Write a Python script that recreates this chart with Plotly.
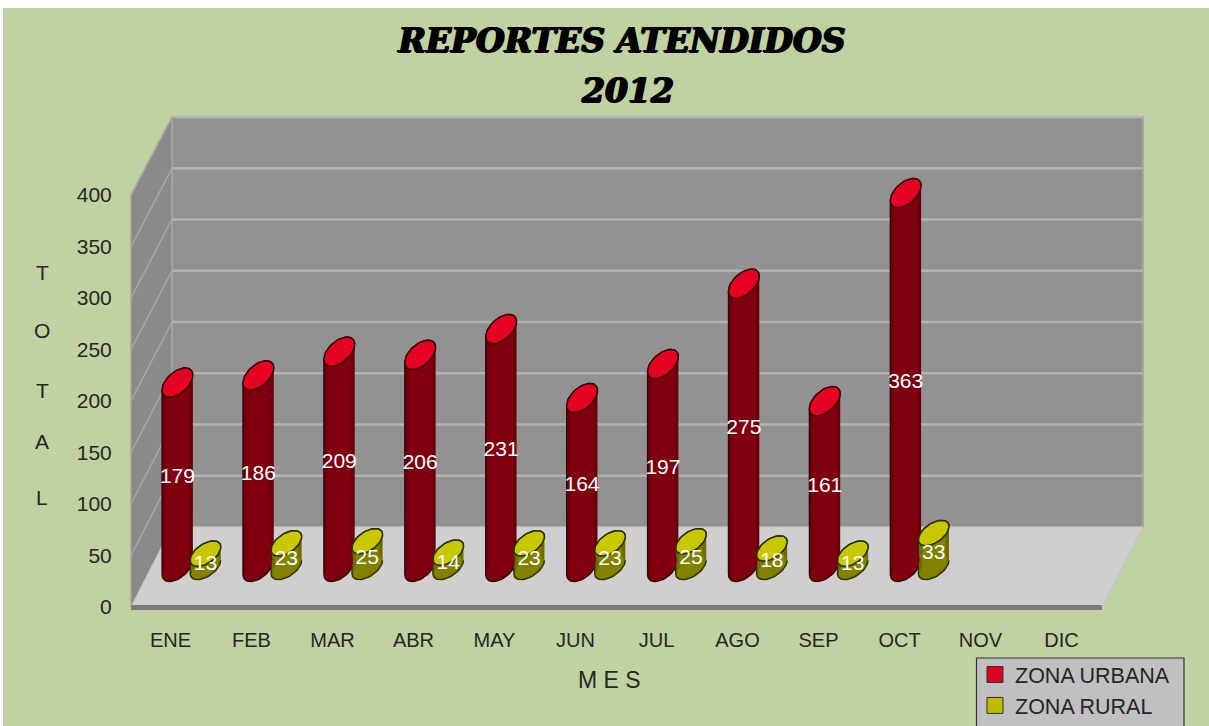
import math
import plotly.graph_objects as go

# ---- data ----
MESES = ["ENE", "FEB", "MAR", "ABR", "MAY", "JUN", "JUL", "AGO", "SEP", "OCT", "NOV", "DIC"]
ZONA_URBANA = [179, 186, 209, 206, 231, 164, 197, 275, 161, 363]
ZONA_RURAL = [13, 23, 25, 14, 23, 23, 25, 18, 13, 33]
Y_TICKS = [0, 50, 100, 150, 200, 250, 300, 350, 400]

W, H = 1209, 726
PX_X = 81.0      # pixels per category
PX_Y = 1.03      # pixels per unit
GREEN = "#c0d2a2"
FONT = "Liberation Sans"
TXT = "#262626"
HEAVY = "1px 0px 0px black, -1px 0px 0px black, 0px 1px 0px black"


def fx(p):
    return p / W


def fy(p):
    return 1 - p / H


def poly(pts, color, line=None, width=0, layer="below"):
    path = "M" + "L".join(f"{fx(a):.5f},{fy(b):.5f}" for a, b in pts) + "Z"
    return dict(type="path", xref="paper", yref="paper", path=path, fillcolor=color,
                line=dict(color=line or color, width=width), layer=layer)


shapes = [
    dict(type="rect", xref="paper", yref="paper", x0=fx(3), x1=1, y0=0, y1=fy(8),
         fillcolor=GREEN, line=dict(width=0), layer="below"),
    poly([(172, 117), (1143, 117), (1143, 527), (172, 527)], "#929292", "#a6a6a6", 2),
    poly([(131, 195), (172, 117), (172, 527), (131, 607)], "#8a8a8a", "#a6a6a6", 1.5),
    poly([(131, 607), (172, 527), (1143, 527), (1102, 607)], "#cfcfcf", "#c4c4c4", 1),
    poly([(131, 605), (1102, 605), (1102, 610), (131, 610)], "#7d7d7d"),
]
for v in Y_TICKS[1:-1] + [400]:
    yb = 527 - v * 1.025
    yf = 607 - v * PX_Y
    shapes.append(dict(type="line", xref="paper", yref="paper", x0=fx(172), x1=fx(1143),
                       y0=fy(yb), y1=fy(yb), line=dict(color="#b2b2b2", width=2.5), layer="below"))
    shapes.append(dict(type="line", xref="paper", yref="paper", x0=fx(131), x1=fx(172),
                       y0=fy(yf), y1=fy(yb), line=dict(color="#a8a8a8", width=1.5), layer="below"))
shapes.append(dict(type="rect", xref="paper", yref="paper", x0=fx(976.5), x1=fx(1184), y0=-0.02, y1=fy(658),
                   fillcolor="#c0c0c0", line=dict(color="#333333", width=1.2), layer="below"))


def arc(a, b, th, t0, t1, n=24):
    out = []
    for i in range(n + 1):
        t = t0 + (t1 - t0) * i / n
        out.append((a * math.cos(t) * math.cos(th) - b * math.sin(t) * math.sin(th),
                    a * math.cos(t) * math.sin(th) + b * math.sin(t) * math.cos(th)))
    return out


def cylinders(values, off, a, b, th):
    t0 = math.atan2(-b * math.sin(th), a * math.cos(th))
    up = arc(a, b, th, t0, t0 + math.pi)
    low = arc(a, b, th, t0 + math.pi, t0 + 2 * math.pi)
    inner = arc(a - 1.5, b - 1.5, th, 0, 2 * math.pi, 48)
    body_x, body_y, top_x, top_y, bot_x, bot_y = [], [], [], [], [], []
    for i, v in enumerate(values):
        c = i + off
        for dx, dy in up:
            body_x.append(c + dx / PX_X)
            body_y.append(v + dy / PX_Y)
        for dx, dy in low:
            body_x.append(c + dx / PX_X)
            body_y.append(dy / PX_Y)
        body_x.append(None)
        body_y.append(None)
        for dx, dy in up + low:
            top_x.append(c + dx / PX_X)
            top_y.append(v + dy / PX_Y)
        top_x.append(None)
        top_y.append(None)
        for dx, dy in inner:
            bot_x.append(c + dx / PX_X)
            bot_y.append(dy / PX_Y)
        bot_x.append(None)
        bot_y.append(None)
    return body_x, body_y, top_x, top_y, bot_x, bot_y


OFF_U, OFF_R = -0.173, 0.173
ub_x, ub_y, ut_x, ut_y, ul_x, ul_y = cylinders(ZONA_URBANA, OFF_U, 18.5, 10.5, math.radians(42))
rb_x, rb_y, rt_x, rt_y, rl_x, rl_y = cylinders(ZONA_RURAL, OFF_R, 17.5, 9.5, math.radians(35))
xu = [i + OFF_U for i in range(len(ZONA_URBANA))]
xr = [i + OFF_R for i in range(len(ZONA_RURAL))]
BODY_U, BODY_R = "#80000f", "#828200"

fig = go.Figure()
# main axes carry the ticks
fig.add_trace(go.Scatter(x=list(range(len(MESES))), y=[None] * len(MESES), mode="markers",
                         xaxis="x", yaxis="y", showlegend=False, hoverinfo="skip"))
# cylinder silhouettes
fig.add_trace(go.Scatter(x=ub_x, y=ub_y, mode="lines", fill="toself", fillcolor="#6a000d",
                         line=dict(color="#3a0008", width=1.3), xaxis="x2", yaxis="y2",
                         showlegend=False, hoverinfo="skip"))
fig.add_trace(go.Scatter(x=rb_x, y=rb_y, mode="lines", fill="toself", fillcolor="#6e6e00",
                         line=dict(color="#2e2e00", width=1.3), xaxis="x2", yaxis="y2",
                         showlegend=False, hoverinfo="skip"))
# bars
fig.add_trace(go.Bar(x=xu, y=ZONA_URBANA, width=24 / PX_X, marker=dict(color=BODY_U, line=dict(width=0)),
                     xaxis="x3", yaxis="y3", showlegend=False))
fig.add_trace(go.Bar(x=xr, y=ZONA_RURAL, width=23 / PX_X, marker=dict(color=BODY_R, line=dict(width=0)),
                     xaxis="x3", yaxis="y3", showlegend=False))
# bottom curves
fig.add_trace(go.Scatter(x=ul_x, y=ul_y, mode="lines", fill="toself", fillcolor=BODY_U,
                         line=dict(width=0), xaxis="x3", yaxis="y3", showlegend=False, hoverinfo="skip"))
fig.add_trace(go.Scatter(x=rl_x, y=rl_y, mode="lines", fill="toself", fillcolor=BODY_R,
                         line=dict(width=0), xaxis="x3", yaxis="y3", showlegend=False, hoverinfo="skip"))
# top caps
fig.add_trace(go.Scatter(x=ut_x, y=ut_y, mode="lines", fill="toself", fillcolor="#e60022",
                         line=dict(color="#3a0008", width=1.6), xaxis="x3", yaxis="y3",
                         showlegend=False, hoverinfo="skip"))
fig.add_trace(go.Scatter(x=rt_x, y=rt_y, mode="lines", fill="toself", fillcolor="#c8c800",
                         line=dict(color="#2e2e00", width=1.6), xaxis="x3", yaxis="y3",
                         showlegend=False, hoverinfo="skip"))
# value labels
fig.add_trace(go.Scatter(x=xu, y=[v / 2 - 3 for v in ZONA_URBANA], mode="text", text=[str(v) for v in ZONA_URBANA],
                         textfont=dict(family=FONT, size=21, color="white"), xaxis="x3", yaxis="y3",
                         showlegend=False, hoverinfo="skip"))
fig.add_trace(go.Scatter(x=xr, y=[v / 2 - 4 for v in ZONA_RURAL], mode="text", text=[str(v) for v in ZONA_RURAL],
                         textfont=dict(family=FONT, size=21, color="white"), xaxis="x3", yaxis="y3",
                         showlegend=False, hoverinfo="skip"))
# legend entries
fig.add_trace(go.Scatter(x=[None], y=[None], mode="markers", name="ZONA URBANA", xaxis="x3", yaxis="y3",
                         marker=dict(symbol="square", size=16, color="#dc0020", line=dict(color="#333333", width=1))))
fig.add_trace(go.Scatter(x=[None], y=[None], mode="markers", name="ZONA RURAL", xaxis="x3", yaxis="y3",
                         marker=dict(symbol="square", size=16, color="#bdbd00", line=dict(color="#333333", width=1))))

# overlay axes: front plane shifted into the floor, range extended below 0 so caps are not clipped
X_SHIFT, BASE_PX, Y_LOW = 20, 567, -50
over_dom_x = [fx(131 + X_SHIFT), fx(1102 + X_SHIFT)]
over_dom_y = [fy(BASE_PX - Y_LOW * PX_Y), fy(BASE_PX - 400 * PX_Y)]
hidden = dict(visible=False, showgrid=False, zeroline=False, fixedrange=True)

annotations = [
    dict(text="<b><i>2012</i></b>", xref="paper", yref="paper", x=fx(627), y=fy(90), showarrow=False,
         xanchor="center", yanchor="middle",
         font=dict(family="DejaVu Serif", size=33, color="black", shadow=HEAVY)),
    dict(text="M E S", xref="paper", yref="paper", x=fx(609), y=fy(680), showarrow=False,
         xanchor="center", yanchor="middle", font=dict(family=FONT, size=23, color=TXT)),
]
for letter, py in zip("TOTAL", [272, 330, 390, 441, 497]):
    annotations.append(dict(text=letter, xref="paper", yref="paper", x=fx(42), y=fy(py), showarrow=False,
                            xanchor="center", yanchor="middle", font=dict(family=FONT, size=21, color=TXT)))

fig.update_layout(
    width=W, height=H, autosize=False,
    margin=dict(l=0, r=0, t=0, b=0, autoexpand=False),
    paper_bgcolor="white", plot_bgcolor="rgba(0,0,0,0)",
    barmode="overlay",
    title=dict(text="<b><i>REPORTES ATENDIDOS</i></b>", x=fx(622), xanchor="center", xref="paper",
               y=fy(40), yanchor="middle", yref="paper",
               font=dict(family="DejaVu Serif", size=33, color="black", shadow=HEAVY)),
    xaxis=dict(domain=[fx(130), fx(1102)], range=[-0.5, 11.5], tickmode="array",
               tickvals=list(range(len(MESES))), ticktext=MESES, showgrid=False, zeroline=False,
               showline=False, ticks="outside", ticklen=15, tickcolor="rgba(0,0,0,0)",
               tickfont=dict(family=FONT, size=20, color=TXT), fixedrange=True),
    yaxis=dict(domain=[fy(607), fy(195)], range=[0, 400], tickmode="array", tickvals=Y_TICKS,
               showgrid=False, zeroline=False, showline=False, ticks="outside", ticklen=13,
               tickcolor="rgba(0,0,0,0)", tickfont=dict(family=FONT, size=21, color=TXT), fixedrange=True),
    xaxis2=dict(domain=over_dom_x, range=[-0.5, 11.5], anchor="y2", **hidden),
    yaxis2=dict(domain=over_dom_y, range=[Y_LOW, 400], anchor="x2", **hidden),
    xaxis3=dict(domain=over_dom_x, range=[-0.5, 11.5], anchor="y3", **hidden),
    yaxis3=dict(domain=over_dom_y, range=[Y_LOW, 400], anchor="x3", **hidden),
    shapes=shapes,
    annotations=annotations,
    showlegend=True,
    legend=dict(x=fx(975), y=fy(654), xanchor="left", yanchor="top", bgcolor="rgba(0,0,0,0)",
                borderwidth=0, font=dict(family=FONT, size=21.5, color=TXT), tracegroupgap=0),
)

fig.write_html("out.html", config=dict(displayModeBar=False),
               post_script="document.body.style.margin='0';document.body.style.overflow='hidden';")
